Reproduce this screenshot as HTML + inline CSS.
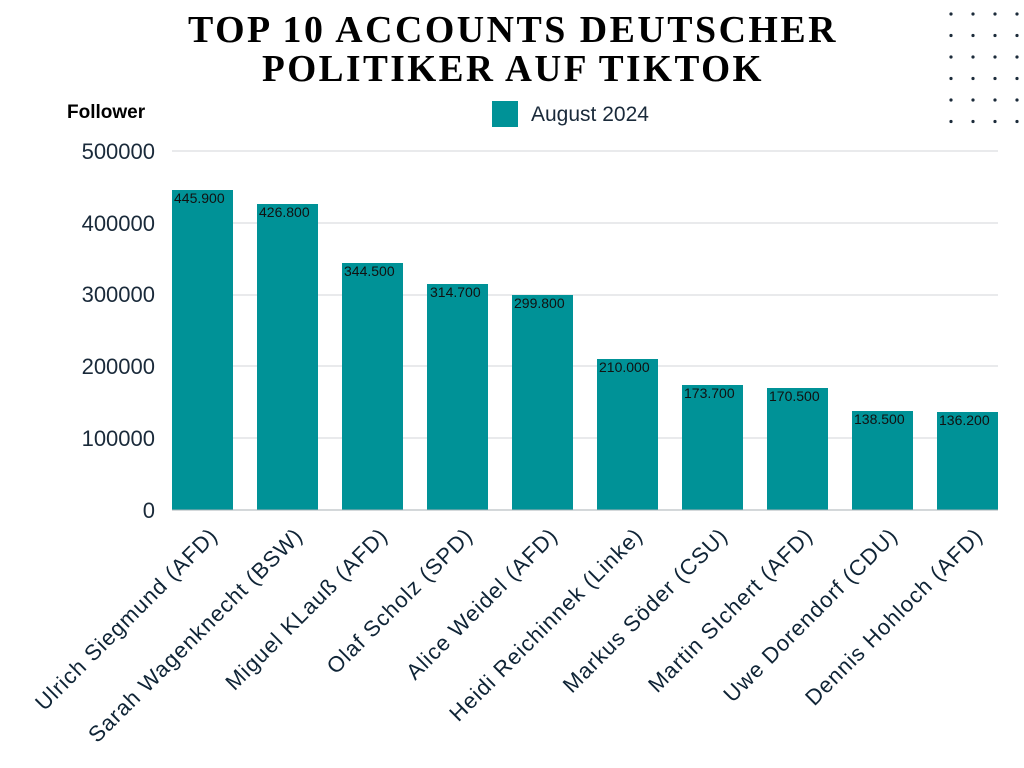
<!DOCTYPE html>
<html><head><meta charset="utf-8"><style>
html,body{margin:0;padding:0;background:#fff;}
svg{display:block;}
</style></head><body>
<svg width="1024" height="768" xmlns="http://www.w3.org/2000/svg">
<rect width="1024" height="768" fill="#fff"/>
<g font-family="Liberation Serif, serif" font-weight="bold" font-size="38" fill="#000" text-anchor="middle" letter-spacing="2.5">
<text x="513" y="42" textLength="650" lengthAdjust="spacingAndGlyphs">TOP 10 ACCOUNTS DEUTSCHER</text>
<text x="513" y="81" textLength="502" lengthAdjust="spacingAndGlyphs">POLITIKER AUF TIKTOK</text>
</g>
<g fill="#1c2b3a">
<g id="r"><circle cx="951" cy="14" r="1.6"/><circle cx="973" cy="14" r="1.6"/><circle cx="995" cy="14" r="1.6"/><circle cx="1017" cy="14" r="1.6"/></g>
<use href="#r" y="21.5"/><use href="#r" y="43"/><use href="#r" y="64.5"/><use href="#r" y="86"/><use href="#r" y="107.5"/>
</g>
<text x="67" y="118" font-family="Liberation Sans, sans-serif" font-weight="bold" font-size="19" fill="#000">Follower</text>
<rect x="492" y="101" width="26" height="26" fill="#009297"/>
<text x="531" y="121" font-family="Liberation Sans, sans-serif" font-size="21" fill="#1a2a3a">August 2024</text>
<g stroke="#d3d6d9" stroke-width="1">
<line x1="172" y1="151" x2="998" y2="151"/><line x1="172" y1="223" x2="998" y2="223"/>
<line x1="172" y1="295" x2="998" y2="295"/><line x1="172" y1="366" x2="998" y2="366"/>
<line x1="172" y1="438" x2="998" y2="438"/>
</g>
<g font-family="Liberation Sans, sans-serif" font-size="22" fill="#1a2a3a" text-anchor="end">
<text x="155" y="159">500000</text><text x="155" y="231">400000</text><text x="155" y="302">300000</text>
<text x="155" y="374">200000</text><text x="155" y="446">100000</text><text x="155" y="518">0</text>
</g>
<g fill="#009297">
<rect x="172" y="190" width="61" height="320"/>
<rect x="257" y="204" width="61" height="306"/>
<rect x="342" y="263" width="61" height="247"/>
<rect x="427" y="284" width="61" height="226"/>
<rect x="512" y="295" width="61" height="215"/>
<rect x="597" y="359" width="61" height="151"/>
<rect x="682" y="385" width="61" height="125"/>
<rect x="767" y="388" width="61" height="122"/>
<rect x="852" y="411" width="61" height="99"/>
<rect x="937" y="412" width="61" height="98"/>
</g>
<line x1="172" y1="510" x2="998" y2="510" stroke="#a9b0b6" stroke-width="1"/>
<g font-family="Liberation Sans, sans-serif" font-size="14" fill="#111">
<text x="174" y="203">445.900</text><text x="259" y="217">426.800</text>
<text x="344" y="276">344.500</text><text x="430" y="297">314.700</text>
<text x="514" y="308">299.800</text><text x="599" y="372">210.000</text>
<text x="684" y="398">173.700</text><text x="769" y="401">170.500</text>
<text x="854" y="424">138.500</text><text x="939" y="425">136.200</text>
</g>
<g font-family="Liberation Sans, sans-serif" font-size="22" fill="#0f2436" text-anchor="end" letter-spacing="1">
<text transform="translate(219,537) rotate(-45)">Ulrich Siegmund (AFD)</text>
<text transform="translate(304,537) rotate(-45)">Sarah Wagenknecht (BSW)</text>
<text transform="translate(389,537) rotate(-45)">Miguel KLauß (AFD)</text>
<text transform="translate(474,537) rotate(-45)">Olaf Scholz (SPD)</text>
<text transform="translate(559,537) rotate(-45)">Alice Weidel (AFD)</text>
<text transform="translate(644,537) rotate(-45)">Heidi Reichinnek (Linke)</text>
<text transform="translate(729,537) rotate(-45)">Markus Söder (CSU)</text>
<text transform="translate(814,537) rotate(-45)">Martin SIchert (AFD)</text>
<text transform="translate(899,537) rotate(-45)">Uwe Dorendorf (CDU)</text>
<text transform="translate(984,537) rotate(-45)">Dennis Hohloch (AFD)</text>
</g>
</svg>
</body></html>
